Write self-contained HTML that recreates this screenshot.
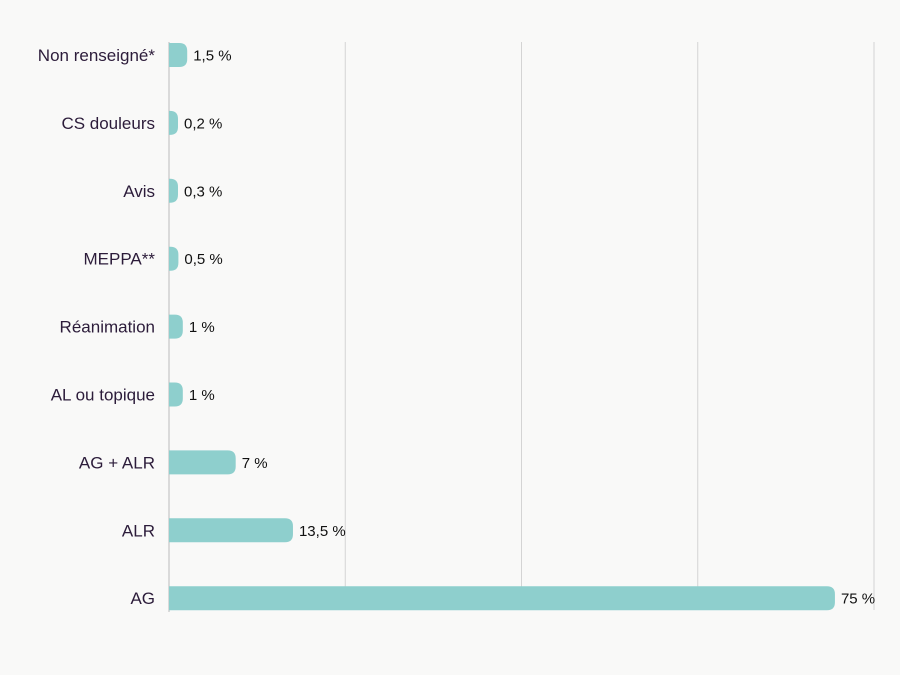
<!DOCTYPE html>
<html><head><meta charset="utf-8">
<style>
body{margin:0;background:#f9f9f8;}
svg{display:block;font-family:"Liberation Sans",sans-serif;}
</style></head>
<body>
<svg id="chart" width="900" height="675" xmlns="http://www.w3.org/2000/svg">
<rect width="900" height="675" fill="#f9f9f8"/>
<g id="grid"></g><g id="bars"></g>
</svg>
<script>
const categories = ["Non renseigné*","CS douleurs","Avis","MEPPA**","Réanimation","AL ou topique","AG + ALR","ALR","AG"];
const values = [1.5,0.2,0.3,0.5,1,1,7,13.5,75];
const valueLabels = ["1,5 %","0,2 %","0,3 %","0,5 %","1 %","1 %","7 %","13,5 %","75 %"];
const gridTicks = [20,40,60,80];

const NS="http://www.w3.org/2000/svg";
const x0=169, xMax=874, vMax=80;
const xScale=v=>x0+v/vMax*(xMax-x0);
const firstRowY=55, rowStep=67.9;
const yScale=i=>firstRowY+i*rowStep;
const gridG=document.getElementById('grid'), barsG=document.getElementById('bars');
function mk(tag,attrs,parent){const e=document.createElementNS(NS,tag);for(const k in attrs)e.setAttribute(k,attrs[k]);parent.appendChild(e);return e;}
gridTicks.forEach(t=>{
  const l=mk('line',{x1:xScale(t),x2:xScale(t),y1:42,y2:610,stroke:'#d4d4d4','stroke-width':1},gridG);
  
  
});
const ax=mk('line',{x1:x0,x2:x0,y1:42,y2:612,stroke:'#cfcfcf','stroke-width':1.5},gridG);


categories.forEach((c,i)=>{
  const cy=yScale(i), h=24;
  const w=Math.max(xScale(values[i])-x0,4)+5;
  const r=Math.min(8,w);
  const p=mk('path',{d:`M${x0},${cy-h/2} H${x0+w-r} Q${x0+w},${cy-h/2} ${x0+w},${cy-h/2+r} V${cy+h/2-r} Q${x0+w},${cy+h/2} ${x0+w-r},${cy+h/2} H${x0} Z`,fill:'#8ecfcd'},barsG);
  
  
  const t=mk('text',{x:155,y:cy+6,'text-anchor':'end','font-size':17,fill:'#2c1c3a'},barsG);
  t.textContent=c;
  
  
  const v=mk('text',{x:x0+w+6,y:cy+5.5,'font-size':15,fill:'#111'},barsG);
  v.textContent=valueLabels[i];
  
  
});
</script>
</body></html>
